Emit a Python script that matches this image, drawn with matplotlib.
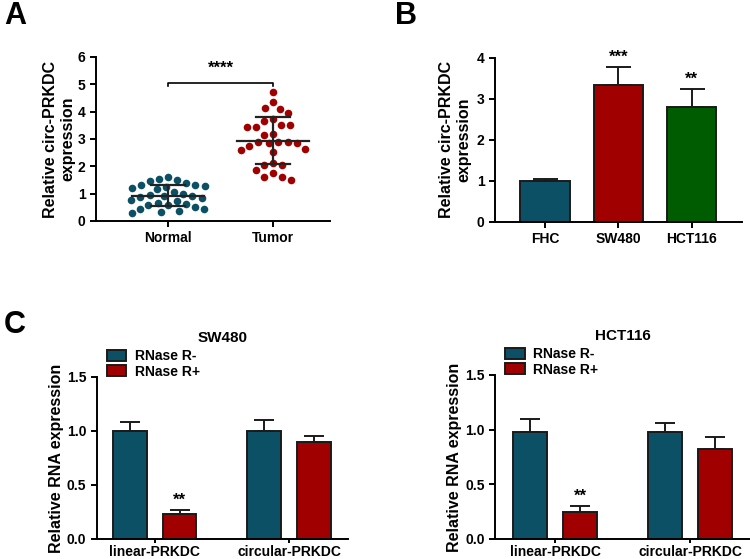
import numpy as np
import matplotlib.pyplot as plt

plt.rcParams['font.family'] = ['Liberation Sans', 'DejaVu Sans']
plt.rcParams['font.weight'] = 'bold'
plt.rcParams['axes.labelweight'] = 'bold'
plt.rcParams['axes.linewidth'] = 1.4

TEAL = '#0b5064'
RED = '#a00000'
GREEN = '#005c00'

# panel A: individual samples
groups_a = ['Normal', 'Tumor']
normal_vals = [1.60, 1.55, 1.50, 1.45, 1.38, 1.32, 1.30, 1.28, 1.26, 1.22,
               1.18, 1.05, 0.98, 0.95, 0.92, 0.90, 0.88, 0.85, 0.78, 0.72,
               0.66, 0.62, 0.60, 0.58, 0.50, 0.45, 0.42, 0.38, 0.33, 0.28]
tumor_vals = [4.71, 4.34, 4.10, 4.15, 3.94, 3.66, 3.73, 3.51, 3.44, 3.44,
              3.52, 3.16, 3.19, 2.88, 2.84, 2.90, 2.84, 2.88, 2.62, 2.51,
              2.59, 2.76, 2.05, 2.05, 2.13, 1.87, 1.75, 1.62, 1.50, 1.60]

# panel B
cells_b = ['FHC', 'SW480', 'HCT116']
means_b = [1.0, 3.35, 2.80]
errs_b = [0.05, 0.42, 0.43]
stars_b = ['', '***', '**']

# panel C
genes_c = ['linear-PRKDC', 'circular-PRKDC']
sw480_minus = [1.00, 1.00]
sw480_minus_err = [0.08, 0.10]
sw480_plus = [0.23, 0.90]
sw480_plus_err = [0.04, 0.05]
hct116_minus = [0.98, 0.98]
hct116_minus_err = [0.12, 0.08]
hct116_plus = [0.25, 0.82]
hct116_plus_err = [0.05, 0.11]


def swarm_offsets(vals, diam, px_y):
    # simple beeswarm: place points nearest to center without overlap (pixel units)
    order = np.argsort(vals)[::-1]
    placed = []
    offs = np.zeros(len(vals))
    for i in order:
        y = vals[i] * px_y
        cands = [0.0]
        for (px, py) in placed:
            dy = abs(py - y)
            if dy < diam:
                dx = np.sqrt(diam ** 2 - dy ** 2)
                cands += [px + dx, px - dx]
        cands.sort(key=lambda c: (abs(c), c))
        for c in cands:
            ok = all((c - px) ** 2 + (y - py) ** 2 >= diam ** 2 - 1e-6 for (px, py) in placed)
            if ok:
                offs[i] = c
                placed.append((c, y))
                break
    return offs


def style_axes(ax, xpad=3.5, xlen=4):
    ax.spines['top'].set_visible(False)
    ax.spines['right'].set_visible(False)
    ax.tick_params(width=1.4, length=4, labelsize=10)
    ax.tick_params(axis='x', length=xlen, pad=xpad)
    for lab in ax.get_xticklabels() + ax.get_yticklabels():
        lab.set_fontweight('bold')


fig = plt.figure(figsize=(7.5, 5.59), dpi=100)

# ---------- A ----------
axA = fig.add_axes([0.128, 0.6047, 0.312, 0.2934])
xlimA = (-0.686, 1.543)
axA.set_xlim(*xlimA)
axA.set_ylim(0, 6)
px_x = 0.312 * 750 / (xlimA[1] - xlimA[0])
px_y = 0.2934 * 559 / 6
for k, (vals, col) in enumerate([(normal_vals, TEAL), (tumor_vals, RED)]):
    vals = np.array(vals)
    offs = swarm_offsets(vals, 9.5, px_y) / px_x
    axA.scatter(k + offs, vals, s=30, color=col, zorder=2, linewidths=0)
    m, sd = vals.mean(), vals.std(ddof=1)
    axA.plot([k - 0.34, k + 0.34], [m, m], color='#222222', lw=1.6, zorder=3)
    axA.plot([k, k], [m - sd, m + sd], color='#222222', lw=1.6, zorder=3)
    for yy in (m - sd, m + sd):
        axA.plot([k - 0.16, k + 0.16], [yy, yy], color='#222222', lw=1.6, zorder=3)
axA.plot([0, 0, 1, 1], [4.93, 5.05, 5.05, 4.93], color='black', lw=1.2)
axA.text(0.5, 5.3, '****', ha='center', va='bottom', fontsize=12, fontweight='bold')
axA.set_xticks([0, 1])
axA.set_xticklabels(groups_a)
axA.set_yticks(range(7))
axA.set_ylabel('Relative circ-PRKDC\nexpression', fontsize=11.5, labelpad=2)
style_axes(axA)

# ---------- B ----------
axB = fig.add_axes([0.66, 0.603, 0.329, 0.2934])
xb = np.arange(len(cells_b))
axB.bar(xb, means_b, width=0.67, color=[TEAL, RED, GREEN], edgecolor='#1a1a1a', lw=1.4, zorder=2)
axB.errorbar(xb, means_b, yerr=[np.zeros(3), errs_b], fmt='none', ecolor='#1a1a1a',
             elinewidth=1.4, capsize=9, capthick=1.4, zorder=1)
for x, m, e, s in zip(xb, means_b, errs_b, stars_b):
    if s:
        axB.text(x, m + e + 0.06, s, ha='center', va='bottom', fontsize=12, fontweight='bold')
axB.set_xlim(-0.68, 2.68)
axB.set_ylim(0, 4)
axB.set_yticks(range(5))
axB.set_xticks(xb)
axB.set_xticklabels(cells_b)
axB.set_ylabel('Relative circ-PRKDC\nexpression', fontsize=11.5, labelpad=4)
style_axes(axB)


# ---------- C ----------
def panel_c(ax, title, minus, minus_err, plus, plus_err, xlim):
    xc = np.arange(len(genes_c))
    off, w = 0.185, 0.25
    ax.bar(xc - off, minus, width=w, color=TEAL, edgecolor='#1a1a1a', lw=1.4, zorder=2, label='RNase R-')
    ax.bar(xc + off, plus, width=w, color=RED, edgecolor='#1a1a1a', lw=1.4, zorder=2, label='RNase R+')
    ax.errorbar(xc - off, minus, yerr=[np.zeros(2), minus_err], fmt='none', ecolor='#1a1a1a',
                elinewidth=1.4, capsize=7, capthick=1.4, zorder=1)
    ax.errorbar(xc + off, plus, yerr=[np.zeros(2), plus_err], fmt='none', ecolor='#1a1a1a',
                elinewidth=1.4, capsize=7, capthick=1.4, zorder=1)
    ax.text(xc[0] + off, plus[0] + plus_err[0] + 0.02, '**', ha='center', va='bottom',
            fontsize=12, fontweight='bold')
    ax.set_xlim(*xlim)
    ax.set_ylim(0, 1.5)
    ax.set_yticks([0, 0.5, 1.0, 1.5])
    ax.set_yticklabels(['0.0', '0.5', '1.0', '1.5'])
    ax.set_xticks(xc)
    ax.set_xticklabels(genes_c)
    ax.set_ylabel('Relative RNA expression', fontsize=11.5, labelpad=2)
    ax.set_title(title, fontsize=11, fontweight='bold', pad=25)
    leg = ax.legend(loc='lower left', bbox_to_anchor=(0.04, 0.99), frameon=False,
                    fontsize=10, handlelength=1.4, handleheight=0.85, labelspacing=0.1,
                    borderaxespad=0, borderpad=0, handletextpad=0.6)
    for t in leg.get_texts():
        t.set_fontweight('bold')
    style_axes(ax, xpad=1.5, xlen=3)


axC1 = fig.add_axes([0.129, 0.0358, 0.335, 0.2898])
panel_c(axC1, 'SW480', sw480_minus, sw480_minus_err, sw480_plus, sw480_plus_err, (-0.433, 1.44))
axC2 = fig.add_axes([0.66, 0.0358, 0.34, 0.2934])
panel_c(axC2, 'HCT116', hct116_minus, hct116_minus_err, hct116_plus, hct116_plus_err, (-0.444, 1.444))

for lbl, x, y in [('A', 0.005, 0.998), ('B', 0.527, 0.998), ('C', 0.005, 0.445)]:
    fig.text(x, y, lbl, fontsize=22, fontweight='bold', va='top', ha='left')

fig.savefig('out.png', dpi=100)
